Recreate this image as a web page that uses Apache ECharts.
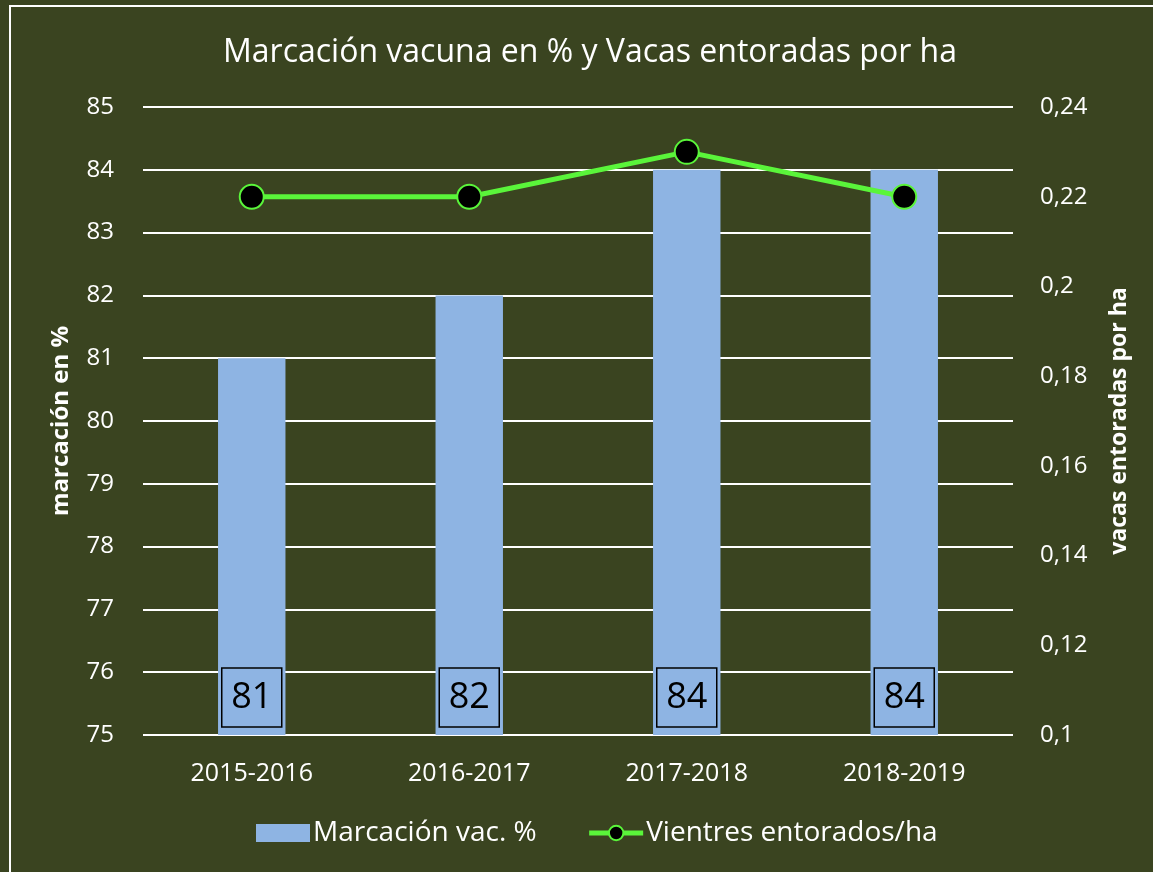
<!DOCTYPE html>
<html>
<head>
<meta charset="utf-8">
<script src="https://cdn.jsdelivr.net/npm/echarts@6/dist/echarts.min.js"></script>
<style>
  html, body { margin: 0; padding: 0; background: #3a4420; }
  #main { width: 1153px; height: 872px; }
</style>
</head>
<body>
<div id="main"></div>
<script>
const categories = ["2015-2016", "2016-2017", "2017-2018", "2018-2019"];
const marcacion = [81, 82, 84, 84];
const vientres = [0.22, 0.22, 0.23, 0.22];

const font = "'Open Sans', 'Noto Sans', sans-serif";

const option = {
  backgroundColor: "#3a4420",
  textStyle: { fontFamily: font },
  graphic: [
    {
      type: "rect",
      shape: { x: 10, y: 6, width: 1180, height: 900 },
      style: { fill: "none", stroke: "#ffffff", lineWidth: 2 },
      silent: true,
    },
  ],
  title: {
    text: "Marcación vacuna en % y Vacas entoradas por ha",
    left: 218,
    top: 32,
    textStyle: { color: "#ffffff", fontSize: 32, fontWeight: "normal", fontFamily: font },
  },
  legend: {
    bottom: 20,
    left: 251,
    itemGap: 50,
    itemWidth: 54,
    itemHeight: 18,
    textStyle: { color: "#ffffff", fontSize: 28, fontFamily: font, padding: [0, 0, 0, -2] },
    data: [
      { name: "Marcación vac. %", icon: "rect" },
      { name: "Vientres entorados/ha", lineStyle: { width: 5, color: "#5af53a" } },
    ],
  },
  grid: { left: 143, right: 140, top: 107, bottom: 137 },
  xAxis: {
    type: "category",
    data: categories,
    axisLine: { show: false },
    axisTick: { show: false },
    axisLabel: { color: "#ffffff", fontSize: 25, margin: 26, fontFamily: font },
  },
  yAxis: [
    {
      type: "value",
      min: 75,
      max: 85,
      interval: 1,
      name: "marcación en %",
      nameLocation: "middle",
      nameRotate: 90,
      nameGap: 70,
      nameTextStyle: { color: "#ffffff", fontSize: 24, fontWeight: "bold", fontFamily: font },
      axisLine: { show: false },
      axisTick: { show: false },
      axisLabel: { color: "#ffffff", fontSize: 24, margin: 29, fontFamily: font },
      splitLine: { lineStyle: { color: "#ffffff", width: 2 } },
    },
    {
      type: "value",
      min: 0.1,
      max: 0.24,
      interval: 0.02,
      name: "vacas entoradas por ha",
      nameLocation: "middle",
      nameRotate: 90,
      nameGap: 95,
      nameTextStyle: { color: "#ffffff", fontSize: 23, fontWeight: "bold", fontFamily: font },
      axisLine: { show: false },
      axisTick: { show: false },
      axisLabel: {
        color: "#ffffff",
        fontSize: 24,
        margin: 27,
        fontFamily: font,
        formatter: (v) => String(+v.toFixed(2)).replace(".", ","),
      },
      splitLine: { show: false },
    },
  ],
  series: [
    {
      name: "Marcación vac. %",
      type: "bar",
      data: marcacion,
      barWidth: "31%",
      itemStyle: { color: "#8eb4e3" },
      label: {
        show: true,
        position: "insideBottom",
        distance: 8,
        color: "#000000",
        fontSize: 36,
        fontFamily: font,
        borderColor: "#000000",
        borderWidth: 1.5,
        width: 56,
        height: 59,
        lineHeight: 59,
        align: "center",
        padding: [0, 2],
      },
    },
    {
      name: "Vientres entorados/ha",
      type: "line",
      yAxisIndex: 1,
      data: vientres,
      symbol: "circle",
      symbolSize: 24,
      lineStyle: { color: "#5af53a", width: 5 },
      itemStyle: { color: "#000000", borderColor: "#5af53a", borderWidth: 2 },
      z: 5,
    },
  ],
};

const chart = echarts.init(document.getElementById("main"));
chart.setOption(option);
</script>
</body>
</html>
